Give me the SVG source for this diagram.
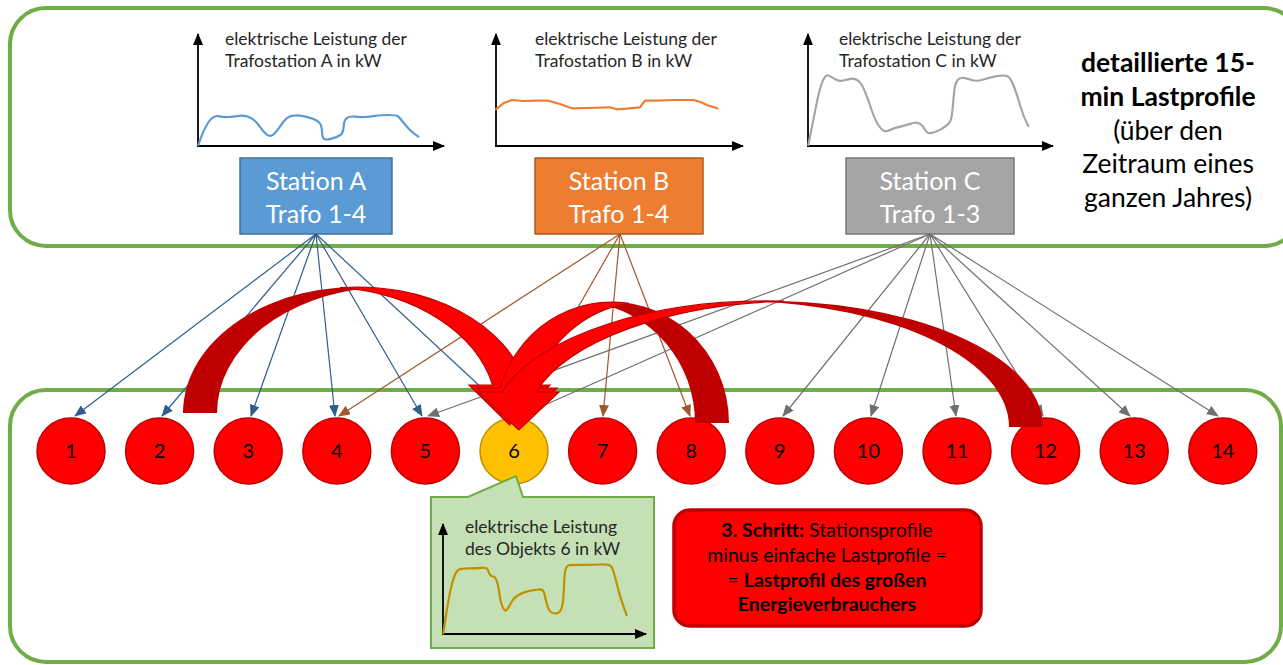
<svg xmlns="http://www.w3.org/2000/svg" width="1283" height="665" viewBox="0 0 1283 665">
  <defs>
    <style>
      text { font-family: Lato, "Open Sans", "Liberation Sans", sans-serif; fill: #000; }
      .frame { fill: #fff; stroke: #70AD47; stroke-width: 4; }
      .axis { stroke: #000; stroke-width: 1.8; fill: none; marker-end: url(#axisHead); }
      .curve { fill: none; stroke-width: 2.2; stroke-linejoin: round; stroke-linecap: round; }
      .lbl { font-size: 17.5px; fill: #262626; }
      .st { font-size: 25px; fill: #fff; text-anchor: middle; }
      .node ellipse { fill: #FF0000; stroke: #C00000; stroke-width: 1.5; }
      .node text { font-size: 20px; text-anchor: middle; }
      .cA { stroke: #2E5E8C; stroke-width: 1.2; marker-end: url(#hA); }
      .cB { stroke: #A0562A; stroke-width: 1.2; marker-end: url(#hB); }
      .cC { stroke: #707070; stroke-width: 1.2; marker-end: url(#hC); }
      .back { fill: #C00000; }
      .front { fill: #FF0000; stroke: #C00000; stroke-width: 1.2; stroke-linejoin: miter; }
      .side { font-size: 26.5px; text-anchor: middle; }
      .step { font-size: 19.5px; text-anchor: middle; }
    </style>
    <marker id="axisHead" markerUnits="userSpaceOnUse" markerWidth="12" markerHeight="10" refX="11" refY="5" orient="auto">
      <path d="M0,0 L12,5 L0,10 Z" fill="#000"/>
    </marker>
    <marker id="hA" markerUnits="userSpaceOnUse" markerWidth="12" markerHeight="10" refX="11" refY="5" orient="auto">
      <path d="M0,0 L12,5 L0,10 Z" fill="#2E5E8C"/>
    </marker>
    <marker id="hB" markerUnits="userSpaceOnUse" markerWidth="12" markerHeight="10" refX="11" refY="5" orient="auto">
      <path d="M0,0 L12,5 L0,10 Z" fill="#A0562A"/>
    </marker>
    <marker id="hC" markerUnits="userSpaceOnUse" markerWidth="12" markerHeight="10" refX="11" refY="5" orient="auto">
      <path d="M0,0 L12,5 L0,10 Z" fill="#707070"/>
    </marker>
  </defs>

  <rect width="1283" height="665" fill="#fff"/>

  <!-- frames -->
  <rect class="frame" x="10" y="8" width="1290" height="238" rx="36"/>
  <rect class="frame" x="10" y="390" width="1271" height="272" rx="36"/>

  <!-- station load profiles -->
  <g id="chartA">
    <line class="axis" x1="198" y1="147" x2="198" y2="34"/>
    <line class="axis" x1="197" y1="146" x2="444" y2="146"/>
    <path class="curve" stroke="#5B9BD5" d="M198.3,145 Q203.3,130 208.3,122.5 Q213.3,115 218.3,116.15 Q223.3,117.3 228.3,117 Q233.3,116.7 239.15,115.85 Q245,115 250,117.5 Q255,120 259.15,125.85 Q263.3,131.7 266.65,134.5 Q270,137.3 273.35,134.5 Q276.7,131.7 281.7,124.2 Q286.7,116.7 291.7,115.85 Q296.7,115 301.7,115.85 Q306.7,116.7 311.7,118.35 Q316.7,120 319.2,122.5 Q321.7,125 322,131.65 Q322.3,138.3 324.5,139.15 Q326.7,140 331.7,138.65 Q336.7,137.3 340,135.3 Q343.3,133.3 343.65,126.65 Q344,120 347,118 Q350,116 355,116.65 Q360,117.3 365,117 Q370,116.7 375,115.85 Q380,115 388.35,115 Q396.7,115 398.35,116.65 Q400,118.3 403.35,122.5 Q406.7,126.7 410,130 Q413.3,133.3 418.3,136.7"/>
    <text class="lbl" x="225" y="45">elektrische Leistung der</text>
    <text class="lbl" x="225" y="67">Trafostation A in kW</text>
  </g>
  <g id="chartB">
    <line class="axis" x1="496" y1="147" x2="496" y2="34"/>
    <line class="axis" x1="495" y1="146" x2="743" y2="146"/>
    <polyline class="curve" stroke="#ED7D31" points="496,109.3 503.3,103.3 511.7,100 523.3,101 536.7,100.7 548.3,100.7 560,104 571.7,108.3 586.7,108 610,107.3 616.7,109.3 626.7,108.7 640,107.3 643.3,102.7 645,100.7 656.7,100.7 673.3,100 693.3,100 700,101.7 706.7,105 717.3,108.3"/>
    <text class="lbl" x="535" y="45">elektrische Leistung der</text>
    <text class="lbl" x="535" y="67">Trafostation B in kW</text>
  </g>
  <g id="chartC">
    <line class="axis" x1="808" y1="147" x2="808" y2="34"/>
    <line class="axis" x1="807" y1="146" x2="1053" y2="146"/>
    <path class="curve" stroke="#A5A5A5" d="M808.3,145 Q813.3,120 816.65,103.35 Q820,86.7 823,80.35 Q826,74 828.85,75.65 Q831.7,77.3 835.85,79.5 Q840,81.7 843.35,80.5 Q846.7,79.3 850.85,78.8 Q855,78.3 858.35,80.8 Q861.7,83.3 865,91.65 Q868.3,100 871.65,110 Q875,120 878.35,125 Q881.7,130 884.2,130.85 Q886.7,131.7 890,130 Q893.3,128.3 898.3,127.15 Q903.3,126 909.15,124.15 Q915,122.3 917.5,122.8 Q920,123.3 921.65,125 Q923.3,126.7 925,129.7 Q926.7,132.7 928.35,133 Q930,133.3 933.35,132.5 Q936.7,131.7 941.7,128.85 Q946.7,126 949.2,123 Q951.7,120 952.5,110 Q953.3,100 954.15,91.65 Q955,83.3 957.5,80.3 Q960,77.3 963.35,77.8 Q966.7,78.3 971.7,80 Q976.7,81.7 983.35,79.5 Q990,77.3 996.65,76.15 Q1003.3,75 1006.65,75.85 Q1010,76.7 1013.35,85 Q1016.7,93.3 1020,105 Q1023.3,116.7 1028.3,126"/>
    <text class="lbl" x="839" y="45">elektrische Leistung der</text>
    <text class="lbl" x="839" y="67">Trafostation C in kW</text>
  </g>

  <g id="sideNote">
    <text class="side" x="1168" y="72" font-weight="bold">detaillierte 15-</text>
    <text class="side" x="1168" y="106" font-weight="bold">min Lastprofile</text>
    <text class="side" x="1168" y="140">(über den</text>
    <text class="side" x="1168" y="173">Zeitraum eines</text>
    <text class="side" x="1168" y="207">ganzen Jahres)</text>
  </g>

  <!-- stations -->
  <g id="stationA">
    <rect x="240" y="158" width="152" height="76" fill="#5B9BD5" stroke="#41719C" stroke-width="1.5"/>
    <text class="st" x="316" y="190">Station A</text>
    <text class="st" x="316" y="223">Trafo 1-4</text>
  </g>
  <g id="stationB">
    <rect x="535" y="158" width="168" height="76" fill="#ED7D31" stroke="#AE5A21" stroke-width="1.5"/>
    <text class="st" x="619" y="190">Station B</text>
    <text class="st" x="619" y="223">Trafo 1-4</text>
  </g>
  <g id="stationC">
    <rect x="846" y="158" width="168" height="76" fill="#A5A5A5" stroke="#787878" stroke-width="1.5"/>
    <text class="st" x="930" y="190">Station C</text>
    <text class="st" x="930" y="223">Trafo 1-3</text>
  </g>

  <!-- connectors: stations to consumers -->
  <g id="connectors" fill="none">
    <line class="cA" x1="316" y1="234" x2="75" y2="416"/>
    <line class="cA" x1="316" y1="234" x2="162" y2="416"/>
    <line class="cA" x1="316" y1="234" x2="251" y2="416"/>
    <line class="cA" x1="316" y1="234" x2="335" y2="416"/>
    <line class="cA" x1="316" y1="234" x2="422" y2="416"/>
    <line class="cA" x1="316" y1="234" x2="512" y2="416"/>
    <line class="cB" x1="620" y1="234" x2="339" y2="416"/>
    <line class="cB" x1="620" y1="234" x2="516" y2="416"/>
    <line class="cB" x1="620" y1="234" x2="603" y2="416"/>
    <line class="cB" x1="620" y1="234" x2="690" y2="416"/>
    <line class="cC" x1="930" y1="234" x2="428" y2="416"/>
    <line class="cC" x1="930" y1="234" x2="520" y2="416"/>
    <line class="cC" x1="930" y1="234" x2="783" y2="416"/>
    <line class="cC" x1="930" y1="234" x2="871" y2="416"/>
    <line class="cC" x1="930" y1="234" x2="956" y2="416"/>
    <line class="cC" x1="930" y1="234" x2="1043" y2="416"/>
    <line class="cC" x1="930" y1="234" x2="1130" y2="416"/>
    <line class="cC" x1="930" y1="234" x2="1218" y2="416"/>
  </g>

  <!-- consumers -->
  <g id="n1" class="node"><ellipse cx="71" cy="451" rx="34" ry="33"/><text x="71" y="458">1</text></g>
  <g id="n2" class="node"><ellipse cx="159.6" cy="451" rx="34" ry="33"/><text x="159.6" y="458">2</text></g>
  <g id="n3" class="node"><ellipse cx="248.2" cy="451" rx="34" ry="33"/><text x="248.2" y="458">3</text></g>
  <g id="n4" class="node"><ellipse cx="336.8" cy="451" rx="34" ry="33"/><text x="336.8" y="458">4</text></g>
  <g id="n5" class="node"><ellipse cx="425.4" cy="451" rx="34" ry="33"/><text x="425.4" y="458">5</text></g>
  <g id="n6" class="node"><ellipse cx="514" cy="451" rx="34" ry="33" style="fill:#FFC000;stroke:#BF9000"/><text x="514" y="458">6</text></g>
  <g id="n7" class="node"><ellipse cx="602.6" cy="451" rx="34" ry="33"/><text x="602.6" y="458">7</text></g>
  <g id="n8" class="node"><ellipse cx="691.2" cy="451" rx="34" ry="33"/><text x="691.2" y="458">8</text></g>
  <g id="n9" class="node"><ellipse cx="779.8" cy="451" rx="34" ry="33"/><text x="779.8" y="458">9</text></g>
  <g id="n10" class="node"><ellipse cx="868.4" cy="451" rx="34" ry="33"/><text x="868.4" y="458">10</text></g>
  <g id="n11" class="node"><ellipse cx="957" cy="451" rx="34" ry="33"/><text x="957" y="458">11</text></g>
  <g id="n12" class="node"><ellipse cx="1045.6" cy="451" rx="34" ry="33"/><text x="1045.6" y="458">12</text></g>
  <g id="n13" class="node"><ellipse cx="1134.2" cy="451" rx="34" ry="33"/><text x="1134.2" y="458">13</text></g>
  <g id="n14" class="node"><ellipse cx="1222.8" cy="451" rx="34" ry="33"/><text x="1222.8" y="458">14</text></g>

  <!-- curved block arrows onto consumer 6 -->
  <g id="arrow2to6">
    <path class="back" d="M183,413 A174,126 0 0 1 374,287.6 A174,126 0 0 0 217,413 Z"/>
    <path class="front" d="M340,287.6 A174,126 0 0 1 526.6,385 L550,385 L509.6,425 L469,385 L492.6,385 A174,126 0 0 0 340,287.6 Z"/>
  </g>
  <g id="arrow8to6">
    <path class="back" d="M729,423 A117,121 0 0 0 595,303.3 A117,121 0 0 1 695,423 Z"/>
    <path class="front" d="M629,303.3 A117,121 0 0 0 500,388 L477,388 L517,428 L557,388 L534,388 A117,121 0 0 1 629,303.3 Z"/>
  </g>
  <g id="arrow12to6">
    <path class="back" d="M1043,427 A276,126 0 0 0 750,301.2 A276,126 0 0 1 1009,427 Z"/>
    <path class="front" d="M784,301.2 A276,126 0 0 0 501.9,392 L479,392 L518.9,430 L559,392 L535.9,392 A276,126 0 0 1 784,301.2 Z"/>
  </g>

  <!-- profile of consumer 6 -->
  <g id="callout6">
    <path d="M431,497 L468,497 L516,476 L523,497 L654,497 L654,648 L431,648 Z" fill="#C5E0B4" stroke="#70AD47" stroke-width="2"/>
    <line class="axis" x1="443" y1="635" x2="443" y2="524"/>
    <line class="axis" x1="442" y1="634" x2="646" y2="634"/>
    <path class="curve" stroke="#BF9000" d="M443.3,633.3 Q446.7,610 449.2,596.65 Q451.7,583.3 454.2,576.65 Q456.7,570 460,569.15 Q463.3,568.3 470,568.3 Q476.7,568.3 482,567.8 Q487.3,567.3 488,570.3 Q488.7,573.3 490.2,575 Q491.7,576.7 493.35,576.7 Q495,576.7 496.65,580.85 Q498.3,585 499.5,594.15 Q500.7,603.3 502.85,607.5 Q505,611.7 506.65,610 Q508.3,608.3 510.8,603.3 Q513.3,598.3 517.5,595.5 Q521.7,592.7 527.5,591.35 Q533.3,590 538.3,589.5 Q543.3,589 544.15,592.85 Q545,596.7 546.65,603.35 Q548.3,610 550.8,612 Q553.3,614 556.65,613.35 Q560,612.7 561.65,608 Q563.3,603.3 563.8,590 Q564.3,576.7 565.15,571.2 Q566,565.7 569.65,565.2 Q573.3,564.7 581.65,564.85 Q590,565 600,564.5 Q610,564 611.65,567 Q613.3,570 615.8,580 Q618.3,590 620.8,598.35 Q623.3,606.7 626.7,615"/>
    <text class="lbl" x="465" y="533">elektrische Leistung</text>
    <text class="lbl" x="465" y="555">des Objekts 6 in kW</text>
  </g>

  <!-- step 3 note -->
  <g id="step3">
    <rect x="674" y="510" width="307" height="116" rx="16" fill="#FF0000" stroke="#C00000" stroke-width="3.5"/>
    <text class="step" x="827" y="537"><tspan font-weight="bold">3. Schritt:</tspan> Stationsprofile</text>
    <text class="step" x="827" y="562">minus einfache Lastprofile =</text>
    <text class="step" x="827" y="587">= <tspan font-weight="bold">Lastprofil des großen</tspan></text>
    <text class="step" x="827" y="611" font-weight="bold">Energieverbrauchers</text>
  </g>
</svg>
